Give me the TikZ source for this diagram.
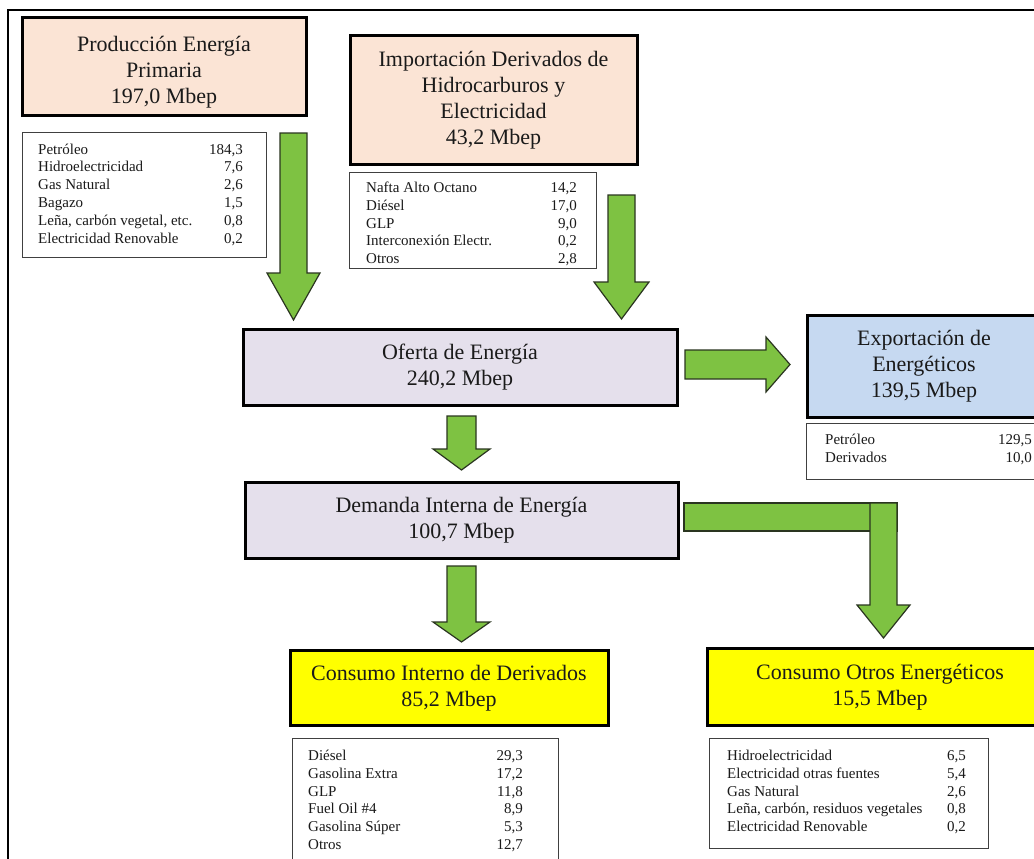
\documentclass[tikz,border=0pt]{standalone}
\usepackage{fontspec}
\setmainfont{Liberation Serif}

\definecolor{peach}{HTML}{FBE4D5}
\definecolor{lavender}{HTML}{E5E0EC}
\definecolor{paleblue}{HTML}{C6D9F1}
\definecolor{hiyellow}{HTML}{FFFF00}
\definecolor{arrowgreen}{HTML}{7EC242}
\definecolor{arrowedge}{HTML}{2A3520}
\definecolor{listedge}{HTML}{404040}
\definecolor{ink}{HTML}{1A1A1A}

\tikzset{
  x=1pt, y=-1pt,
  headbox/.style={draw=black, line width=3pt, inner sep=0pt, align=center,
    font=\fontsize{22}{26}\selectfont, text=ink},
  headtext/.style={inner sep=0pt, align=center,
    font=\fontsize{22}{26}\selectfont, text=ink},
  listbox/.style={draw=listedge, line width=1.3pt, fill=white, inner sep=0pt,
    anchor=north west},
  itemtxt/.style={inner sep=0pt, font=\fontsize{15}{17.8}\selectfont, text=ink},
  fatarrow/.style={fill=arrowgreen, draw=arrowedge, line width=1.2pt, line join=miter},
}

% list of "label / value" rows: prefix, left x, right x, first baseline, rows
\newcommand\itemlist[5]{%
  \foreach \lab/\val [count=\k] in {#5} {
    \node[itemtxt, anchor=base west] (#1l\k) at (#2,{#4+(\k-1)*17.8}) {\lab};
    \node[itemtxt, anchor=base east] (#1v\k) at (#3,{#4+(\k-1)*17.8}) {\val};
  }}

% block arrow pointing down: centre x, top, half shaft, half head, head start, tip
\newcommand\fatdown[6]{%
  \draw[fatarrow] ({#1-#3},#2) -- ({#1+#3},#2) -- ({#1+#3},#5) -- ({#1+#4},#5)
    -- (#1,#6) -- ({#1-#4},#5) -- ({#1-#3},#5) -- cycle;}

% block arrow pointing right: centre y, left, half shaft, half head, head start, tip
\newcommand\fatright[6]{%
  \draw[fatarrow] (#2,{#1-#3}) -- (#2,{#1+#3}) -- (#5,{#1+#3}) -- (#5,{#1+#4})
    -- (#6,#1) -- (#5,{#1-#4}) -- (#5,{#1-#3}) -- cycle;}

\begin{document}
\begin{tikzpicture}
\useasboundingbox (0,0) rectangle (1034,859);
\fill[white] (0,0) rectangle (1034,859);

% page frame
\draw[line width=1.4pt, black] (8,870) -- (8,10) -- (1040,10);

% header boxes
\node[headbox, fill=peach, minimum width=284pt, minimum height=97pt]
  (prod) at (164,66.5) {};
\node[headtext] (prodtxt) at (164,72) {Producción Energía\\Primaria\\197,0 Mbep};
\node[headbox, fill=peach, minimum width=287pt, minimum height=128pt]
  (imp) at (493.5,100) {Importación Derivados de\\Hidrocarburos y\\Electricidad\\43,2 Mbep};
\node[headbox, fill=lavender, minimum width=434pt, minimum height=76pt]
  (oferta) at (460,367.5) {Oferta de Energía\\240,2 Mbep};
\node[headbox, fill=lavender, minimum width=433pt, minimum height=76pt]
  (demanda) at (461.5,520.5) {Demanda Interna de Energía\\100,7 Mbep};
\node[headbox, fill=paleblue, minimum width=234pt, minimum height=102pt]
  (export) at (924,366.5) {Exportación de\\Energéticos\\139,5 Mbep};
\node[headbox, fill=hiyellow, minimum width=318pt, minimum height=75pt]
  (cderiv) at (449,688) {Consumo Interno de Derivados\\85,2 Mbep};
\node[headbox, fill=hiyellow, minimum width=346pt, minimum height=77pt]
  (cotros) at (880,687) {Consumo Otros Energéticos\\15,5 Mbep};

% detail lists
\node[listbox, minimum width=244pt, minimum height=125pt] (lprod) at (22,132) {};
\itemlist{p}{38}{243}{154}{Petróleo/{184,3}, Hidroelectricidad/{7,6},
  Gas Natural/{2,6}, Bagazo/{1,5}, {Leña, carbón vegetal, etc.}/{0,8},
  Electricidad Renovable/{0,2}}

\node[listbox, minimum width=247pt, minimum height=96pt] (limp) at (349,172) {};
\itemlist{i}{366}{577}{192.5}{Nafta Alto Octano/{14,2}, Diésel/{17,0},
  GLP/{9,0}, Interconexión Electr./{0,2}, Otros/{2,8}}

\node[listbox, minimum width=240pt, minimum height=56pt] (lexp) at (806,423) {};
\itemlist{e}{825}{1032}{444.5}{Petróleo/{129,5}, Derivados/{10,0}}

\node[listbox, minimum width=266pt, minimum height=140pt] (lderiv) at (292,738) {};
\itemlist{d}{308}{523}{760.5}{Diésel/{29,3}, Gasolina Extra/{17,2}, GLP/{11,8},
  Fuel Oil \#4/{8,9}, Gasolina Súper/{5,3}, Otros/{12,7}}

\node[listbox, minimum width=279pt, minimum height=110pt] (lotros) at (709,738) {};
\itemlist{o}{727}{966}{760.5}{Hidroelectricidad/{6,5},
  Electricidad otras fuentes/{5,4}, Gas Natural/{2,6},
  {Leña, carbón, residuos vegetales}/{0,8}, Electricidad Renovable/{0,2}}

% flow arrows
\fatdown{293.5}{133}{13.5}{26.5}{273}{320}
\fatdown{621.5}{195}{13.5}{27.5}{282}{319}
\fatdown{461.5}{416}{14.5}{28.5}{449}{470}
\fatdown{461.5}{566}{14.5}{28.5}{622}{642}
\fatright{364.5}{685}{14.5}{27.5}{766}{790}
\draw[fatarrow] (684,503) rectangle (897,531);
\fatdown{883.5}{503}{13.5}{26.5}{605}{638}
\end{tikzpicture}
\end{document}
